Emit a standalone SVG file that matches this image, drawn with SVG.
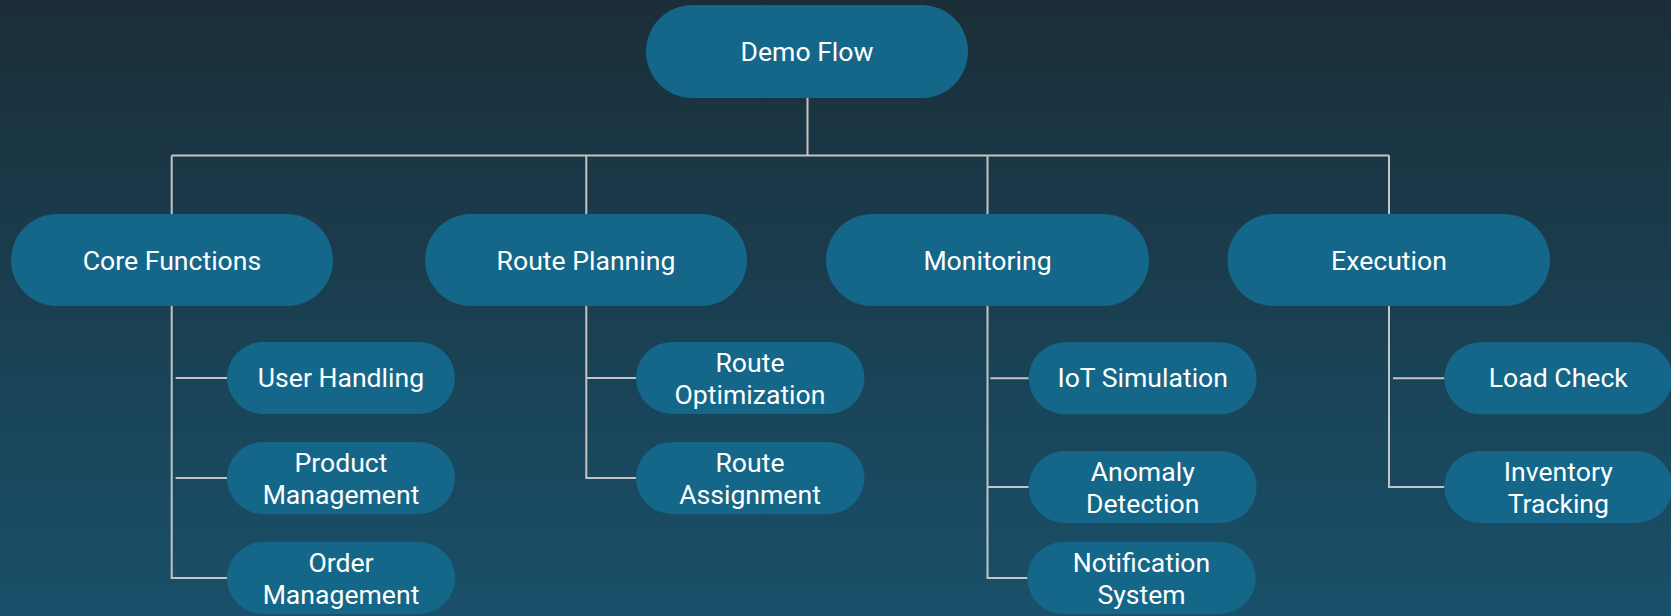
<svg xmlns="http://www.w3.org/2000/svg" width="1671" height="616" viewBox="0 0 1671 616">
<defs>
<linearGradient id="bg" x1="0" y1="0" x2="0" y2="1">
<stop offset="0" stop-color="#1b2e38"/>
<stop offset="1" stop-color="#19506a"/>
</linearGradient>
<style>
.n{fill:#15678a}
.t{font-family:Roboto,"Liberation Sans",sans-serif;font-size:26.6px;fill:#ffffff;text-anchor:middle}
.c{stroke:#c4c4c4;stroke-width:2;fill:none}
</style>
</defs>
<rect x="0" y="0" width="1671" height="616" fill="url(#bg)"/>
<g id="connectors">
<path class="c" d="M807.5 98V155.5M171.7 155.5H1389"/>
<path class="c" d="M171.7 155.5V214M586.3 155.5V214M987.5 155.5V214M1389 155.5V214"/>
<path class="c" d="M171.7 306V578H227M175.7 378H227M175.7 478H227"/>
<path class="c" d="M586.3 306V478H636M586.3 378H636"/>
<path class="c" d="M987.5 306V578H1028M990.3 378.3H1028.7M987.5 487H1028.7"/>
<path class="c" d="M1389 306V487H1444.3M1393 378.3H1444.3"/>
</g>
<g id="demo-flow"><rect class="n" x="646" y="5" width="322" height="93" rx="46.5"/><text class="t" x="807" y="61">Demo Flow</text></g>
<g id="core-functions"><rect class="n" x="11" y="214" width="322" height="92" rx="46"/><text class="t" x="172" y="270">Core Functions</text></g>
<g id="route-planning"><rect class="n" x="425" y="214" width="322" height="92" rx="46"/><text class="t" x="586" y="270">Route Planning</text></g>
<g id="monitoring"><rect class="n" x="826" y="214" width="323" height="92" rx="46"/><text class="t" x="987.5" y="270">Monitoring</text></g>
<g id="execution"><rect class="n" x="1227.5" y="214" width="322.5" height="92" rx="46"/><text class="t" x="1389" y="270">Execution</text></g>
<g id="user-handling"><rect class="n" x="227" y="342" width="228" height="72" rx="36"/><text class="t" x="341" y="387">User Handling</text></g>
<g id="product-management"><rect class="n" x="227" y="442" width="228" height="72" rx="36"/><text class="t" x="341" y="471.7">Product</text><text class="t" x="341" y="504">Management</text></g>
<g id="order-management"><rect class="n" x="227" y="542" width="228" height="72" rx="36"/><text class="t" x="341" y="571.7">Order</text><text class="t" x="341" y="604">Management</text></g>
<g id="route-optimization"><rect class="n" x="636" y="342" width="228.5" height="72" rx="36"/><text class="t" x="750" y="371.7">Route</text><text class="t" x="750" y="404">Optimization</text></g>
<g id="route-assignment"><rect class="n" x="636" y="442" width="228.5" height="72" rx="36"/><text class="t" x="750" y="471.7">Route</text><text class="t" x="750" y="504">Assignment</text></g>
<g id="iot-simulation"><rect class="n" x="1028.7" y="342.3" width="228" height="72" rx="36"/><text class="t" x="1142.7" y="387">IoT Simulation</text></g>
<g id="anomaly-detection"><rect class="n" x="1028.7" y="451" width="228" height="72" rx="36"/><text class="t" x="1142.7" y="480.7">Anomaly</text><text class="t" x="1142.7" y="513">Detection</text></g>
<g id="notification-system"><rect class="n" x="1027.3" y="542" width="228.4" height="72" rx="36"/><text class="t" x="1141.5" y="571.7">Notification</text><text class="t" x="1141.5" y="604">System</text></g>
<g id="load-check"><rect class="n" x="1444.3" y="342.3" width="228" height="72" rx="36"/><text class="t" x="1558.3" y="387">Load Check</text></g>
<g id="inventory-tracking"><rect class="n" x="1444.3" y="451" width="228" height="72" rx="36"/><text class="t" x="1558.3" y="480.7">Inventory</text><text class="t" x="1558.3" y="513">Tracking</text></g>
</svg>
